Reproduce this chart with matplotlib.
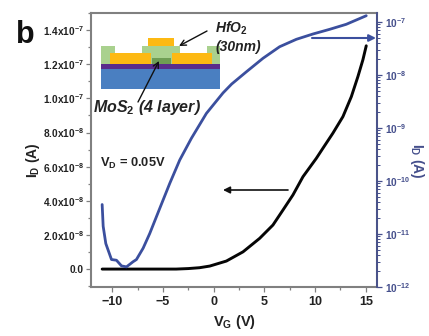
import matplotlib
matplotlib.use("Agg")
import matplotlib.pyplot as plt
from matplotlib.patches import Rectangle

plt.rcParams['font.family'] = ['Liberation Sans', 'DejaVu Sans']
plt.rcParams['font.weight'] = 'bold'
plt.rcParams['mathtext.fontset'] = 'custom'
plt.rcParams['mathtext.rm'] = 'Liberation Sans:bold'
plt.rcParams['mathtext.it'] = 'Liberation Sans:italic:bold'
plt.rcParams['mathtext.bf'] = 'Liberation Sans:bold'
plt.rcParams['mathtext.default'] = 'rm'

# black curve, left linear axis
vg_lin = [-11, -8, -3.7, -2.5, -1.4, -0.39, 1.25, 2.89, 4.53, 5.84, 6.83, 7.81, 8.8, 10.12, 10.77, 11.75,
          12.74, 13.57, 14.22, 14.71, 15.04]
id_lin = [0, 0, 0, 3e-10, 8e-10, 1.76e-9, 4.7e-9, 1.01e-8, 1.8e-8, 2.58e-8, 3.46e-8, 4.34e-8, 5.41e-8, 6.49e-8,
          7.08e-8, 7.96e-8, 8.93e-8, 1.01e-7, 1.128e-7, 1.226e-7, 1.308e-7]

# blue curve, right log axis
vg_log = [-11, -10.9, -10.64, -10.08, -9.59, -9.09, -8.6, -7.95, -7.62, -6.96, -6.31, -5.32, -4.33, -3.35, -2.2,
          -0.72, 0.92, 1.77, 3.22, 4.86, 6.5, 8.15, 9.78, 11.43, 13.07, 15.04]
id_log = [3.6e-11, 1.4e-11, 6.6e-12, 3.3e-12, 3.2e-12, 2.5e-12, 2.4e-12, 3.0e-12, 3.3e-12, 5.4e-12, 1.02e-11,
          3.05e-11, 9.06e-11, 2.49e-10, 6.4e-10, 1.89e-9, 4.6e-9, 6.76e-9, 1.15e-8, 2.07e-8, 3.42e-8, 4.72e-8,
          5.94e-8, 7.28e-8, 9.06e-8, 1.315e-7]

x_ticks = [-10, -5, 0, 5, 10, 15]
left_ticks = [0, 2e-8, 4e-8, 6e-8, 8e-8, 1e-7, 1.2e-7, 1.4e-7]
left_labels = ['0.0', '2.0x10$^{-8}$', '4.0x10$^{-8}$', '6.0x10$^{-8}$', '8.0x10$^{-8}$',
               '1.0x10$^{-7}$', '1.2x10$^{-7}$', '1.4x10$^{-7}$']
right_ticks = [1e-12, 1e-11, 1e-10, 1e-9, 1e-8, 1e-7]
right_labels = ['10$^{-12}$', '10$^{-11}$', '10$^{-10}$', '10$^{-9}$', '10$^{-8}$', '10$^{-7}$']

GRAY = '#808080'
TEXT = '#222222'
BLUE = '#3b4f9e'
NAVY = '#454f8c'

fig = plt.figure(figsize=(4.29, 3.36), dpi=100)
ax = fig.add_axes([91 / 429, 1 - 287 / 336, 286 / 429, 274 / 336])
ax.plot(vg_lin, id_lin, color='#050505', lw=2.1, solid_capstyle='round')
ax.set_xlim(-12.1, 16.1)
ax.set_ylim(-1.05e-8, 1.5e-7)
ax.set_xticks(x_ticks)
ax.set_xticks([-7.5, -2.5, 2.5, 7.5, 12.5], minor=True)
ax.set_yticks(left_ticks)
ax.set_yticklabels(left_labels)
ax.set_yticks([-1e-8, 1e-8, 3e-8, 5e-8, 7e-8, 9e-8, 1.1e-7, 1.3e-7, 1.5e-7], minor=True)
ax.tick_params(axis='both', which='major', length=3.5, width=0.9, color=GRAY, labelcolor=TEXT, pad=1.5)
ax.tick_params(axis='both', which='minor', length=2, width=0.9, color=GRAY)
ax.tick_params(axis='x', labelsize=9, pad=3)
ax.tick_params(axis='y', labelsize=7.3)
for s in ax.spines.values():
    s.set_color(GRAY)
    s.set_linewidth(1.5)

ax2 = ax.twinx()
ax2.set_yscale('log')
ax2.plot(vg_log, id_log, color=BLUE, lw=2.0, solid_capstyle='round')
ax2.set_ylim(1e-12, 1.48e-7)
ax2.set_yticks(right_ticks)
ax2.set_yticklabels(right_labels)
ax2.tick_params(axis='y', which='major', length=3.5, width=0.9, color=NAVY, labelcolor=NAVY, labelsize=7.3, pad=2)
ax2.tick_params(axis='y', which='minor', length=2, width=0.7, color=NAVY)
for name, s in ax2.spines.items():
    s.set_visible(name == 'right')
ax2.spines['right'].set_color(NAVY)
ax2.spines['right'].set_linewidth(1.3)

# overlay in pixel coordinates for the schematic and the notes
ov = fig.add_axes([0, 0, 1, 1], zorder=5)
ov.set_xlim(0, 429)
ov.set_ylim(336, 0)
ov.axis('off')
ov.patch.set_alpha(0)

layers = [
    (101, 69, 119, 20, '#4a7fc1'),
    (101, 64, 119, 5, '#5a2d8c'),
    (101, 46, 14, 18, '#a9d18e'),
    (207, 46, 13, 18, '#a9d18e'),
    (142, 46, 38, 12, '#a9d18e'),
    (151, 53, 21, 11, '#a9d18e'),
    (152, 58, 19, 6, '#6f9e54'),
    (110, 53, 41, 11, '#fdb913'),
    (172, 53, 40, 11, '#fdb913'),
    (148, 38, 26, 8, '#fdb913'),
]
for x, y, w, h, c in layers:
    ov.add_patch(Rectangle((x, y), w, h, facecolor=c, edgecolor='none'))

ov.text(16, 43, 'b', fontsize=22, color='#111111', va='baseline')
ov.text(215, 33, 'HfO$_2$', fontsize=10, style='italic', color=TEXT)
ov.text(215, 51, '(30nm)', fontsize=10, style='italic', color=TEXT)
ov.text(93, 112, 'MoS$_2$ (4 layer)', fontsize=11.5, style='italic', color=TEXT)
ov.text(100, 167, 'V$_D$ = 0.05V', fontsize=9.3, color=TEXT)
ov.text(33, 160, 'I$_D$ (A)', fontsize=10, rotation=90, ha='center', va='center', color=TEXT)
ov.text(417, 161, 'I$_D$ (A)', fontsize=10, rotation=270, ha='center', va='center', color=NAVY)
ov.text(235, 322, 'V$_G$ (V)', fontsize=10.5, ha='center', va='center', color=TEXT)

ov.annotate('', xy=(179, 46), xytext=(207, 31), arrowprops=dict(arrowstyle='->', color='#111111', lw=1, shrinkA=0, shrinkB=0))
ov.annotate('', xy=(159, 61), xytext=(138, 102), arrowprops=dict(arrowstyle='->', color='#111111', lw=1, shrinkA=0, shrinkB=0))
ov.annotate('', xy=(223, 190), xytext=(288, 190), arrowprops=dict(arrowstyle='-|>', color='#111111', lw=1.2, shrinkA=0, shrinkB=0))
ov.annotate('', xy=(376, 38), xytext=(312, 38), arrowprops=dict(arrowstyle='-|>', color=BLUE, lw=1.5, shrinkA=0, shrinkB=0))

fig.savefig('out.png', dpi=100)
